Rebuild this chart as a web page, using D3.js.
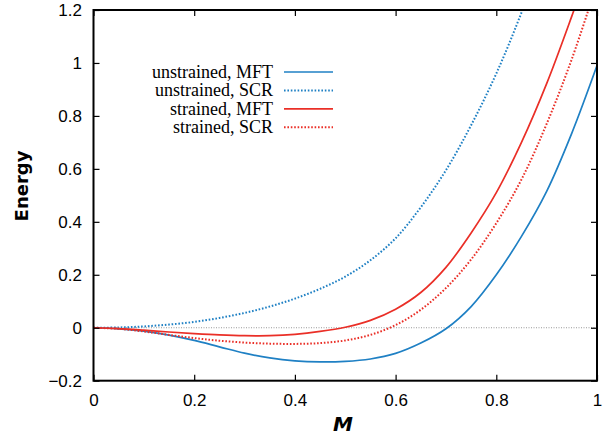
<!DOCTYPE html>
<html>
<head>
<meta charset="utf-8">
<script src="https://cdn.jsdelivr.net/npm/d3@7"></script>
<style>
  body { margin: 0; background: #fff; }
  .tick text { font-family: "Liberation Sans", Arial, sans-serif; font-size: 17px; fill: #000; }
  .tick line { stroke: #000; stroke-width: 1.2; }
</style>
</head>
<body>
<div id="chart"></div>
<script>
// Magnetization grid and energies
const mValues = [0, 0.05, 0.1, 0.15, 0.2, 0.25, 0.3, 0.35, 0.4, 0.45, 0.5,
                 0.55, 0.6, 0.65, 0.7, 0.75, 0.8, 0.85, 0.9, 0.95, 1.0];

const unstrainedMFT = [0, -0.004, -0.013, -0.028, -0.048, -0.072, -0.096, -0.114, -0.125, -0.129, -0.127,
                       -0.118, -0.097, -0.058, -0.004, 0.08, 0.2, 0.345, 0.515, 0.735, 0.99];
const unstrainedSCR = [0, 0.001, 0.005, 0.012, 0.022, 0.037, 0.056, 0.08, 0.11, 0.147, 0.193,
                       0.255, 0.338, 0.455, 0.595, 0.765, 0.96, 1.19, 1.45, 1.71, 1.98];
const strainedMFT   = [0, -0.003, -0.009, -0.016, -0.022, -0.027, -0.03, -0.03, -0.025, -0.014, 0.002,
                       0.028, 0.07, 0.133, 0.228, 0.358, 0.51, 0.7, 0.922, 1.177, 1.447];
const strainedSCR   = [0, -0.004, -0.014, -0.027, -0.039, -0.049, -0.056, -0.06, -0.061, -0.058, -0.048,
                       -0.027, 0.01, 0.068, 0.15, 0.258, 0.395, 0.56, 0.77, 1.015, 1.3];

const seriesNames  = ['unstrained, MFT', 'unstrained, SCR', 'strained, MFT', 'strained, SCR'];
const seriesValues = [unstrainedMFT, unstrainedSCR, strainedMFT, strainedSCR];
const seriesColors = ['#1f80c4', '#1f80c4', '#ea2f27', '#ea2f27'];
const seriesDotted = [false, true, false, true];

const xTicks = [0, 0.2, 0.4, 0.6, 0.8, 1];
const yTicks = [-0.2, 0, 0.2, 0.4, 0.6, 0.8, 1, 1.2];

const W = 613, H = 440;
const margin = { top: 10, right: 16, bottom: 59.3, left: 93.5 };
const width = W - margin.left - margin.right;
const height = H - margin.top - margin.bottom;

const svg = d3.select('#chart').append('svg')
    .attr('width', W)
    .attr('height', H);

const g = svg.append('g')
    .attr('transform', `translate(${margin.left},${margin.top})`);

const x = d3.scaleLinear().domain([0, 1]).range([0, width]);
const y = d3.scaleLinear().domain([-0.2, 1.2]).range([height, 0]);

const fmt = d => d3.format('~g')(d);

// zero reference line
g.append('line')
    .attr('x1', x(0)).attr('x2', x(1))
    .attr('y1', y(0)).attr('y2', y(0))
    .attr('stroke', '#9a9a9a')
    .attr('stroke-width', 1)
    .attr('stroke-dasharray', '1,1.5');

// clip curves to the frame
svg.append('defs').append('clipPath').attr('id', 'plot-clip')
    .append('rect').attr('width', width).attr('height', height);

const line = d3.line()
    .x((d, i) => x(mValues[i]))
    .y(d => y(d))
    .curve(d3.curveCatmullRom.alpha(0.5));

const curves = g.append('g').attr('clip-path', 'url(#plot-clip)');
seriesValues.forEach((vals, k) => {
    curves.append('path')
        .attr('d', line(vals))
        .attr('fill', 'none')
        .attr('stroke', seriesColors[k])
        .attr('stroke-width', seriesDotted[k] ? 2 : 1.7)
        .attr('stroke-dasharray', seriesDotted[k] ? '1.6,1.8' : null);
});

// axes: ticks point inward, mirrored on top/right
g.append('g')
    .attr('transform', `translate(0,${height})`)
    .call(d3.axisBottom(x).tickValues(xTicks).tickFormat(fmt)
        .tickSizeInner(-6).tickSizeOuter(0).tickPadding(13))
    .call(a => a.select('.domain').remove());

g.append('g')
    .call(d3.axisTop(x).tickValues(xTicks).tickFormat('')
        .tickSizeInner(-6).tickSizeOuter(0))
    .call(a => a.select('.domain').remove());

g.append('g')
    .call(d3.axisLeft(y).tickValues(yTicks).tickFormat(fmt)
        .tickSizeInner(-6).tickSizeOuter(0).tickPadding(11.5))
    .call(a => a.select('.domain').remove());

g.append('g')
    .attr('transform', `translate(${width},0)`)
    .call(d3.axisRight(y).tickValues(yTicks).tickFormat('')
        .tickSizeInner(-6).tickSizeOuter(0))
    .call(a => a.select('.domain').remove());

// frame
g.append('rect')
    .attr('width', width)
    .attr('height', height)
    .attr('fill', 'none')
    .attr('stroke', '#000')
    .attr('stroke-width', 2);

// axis titles
svg.append('text')
    .attr('transform', 'translate(28,186) rotate(-90)')
    .attr('text-anchor', 'middle')
    .style('font-family', '"DejaVu Sans", sans-serif')
    .style('font-weight', 'bold')
    .style('font-size', '18px')
    .text('Energy');

svg.append('text')
    .attr('x', 343)
    .attr('y', 431)
    .attr('text-anchor', 'middle')
    .style('font-family', '"DejaVu Sans", sans-serif')
    .style('font-weight', 'bold')
    .style('font-style', 'italic')
    .style('font-size', '20px')
    .text('M');

// legend
const legend = svg.append('g');
seriesNames.forEach((name, k) => {
    const cy = 72 + k * 18.4;
    legend.append('text')
        .attr('x', 273)
        .attr('y', cy + 6)
        .attr('text-anchor', 'end')
        .style('font-family', '"Liberation Serif", "Times New Roman", serif')
        .style('font-size', '18px')
        .text(name);
    legend.append('line')
        .attr('x1', 284).attr('x2', 333)
        .attr('y1', cy).attr('y2', cy)
        .attr('stroke', seriesColors[k])
        .attr('stroke-width', seriesDotted[k] ? 2 : 1.7)
        .attr('stroke-dasharray', seriesDotted[k] ? '1.6,1.8' : null);
});
</script>
</body>
</html>
